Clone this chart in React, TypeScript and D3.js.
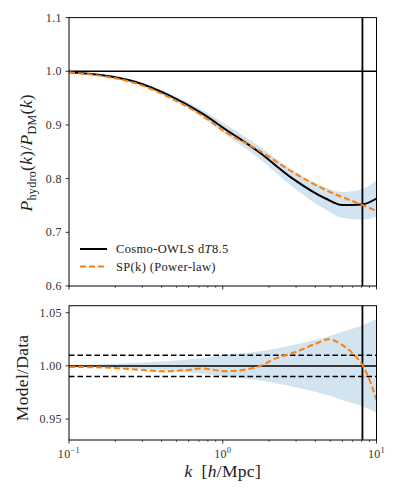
import * as d3 from "d3";

// ---- data ----
const kData = [0.1, 0.165, 0.272, 0.448, 0.738, 1.04, 1.71, 2.82, 4.66, 5.98, 8.07, 10];
const hydroRatio = [0.998, 0.9925, 0.98, 0.955, 0.921, 0.892, 0.85, 0.801, 0.763, 0.751, 0.752, 0.763];
const relErr = [0.0005, 0.0015, 0.003, 0.0045, 0.0075, 0.0105, 0.0135, 0.0195, 0.027, 0.032, 0.038, 0.044];

const kPower = [0.1, 0.165, 0.272, 0.448, 0.738, 1.04, 1.71, 2.82, 4.66, 8.07, 10];
const powerLaw = [0.998, 0.991, 0.9776, 0.9516, 0.917, 0.887, 0.853, 0.813, 0.779, 0.751, 0.74];

const kModel = [0.1, 0.165, 0.272, 0.405, 0.576, 0.738, 1.05, 1.42, 1.73, 2.22, 2.98, 4.04, 4.9, 6.0, 7.2, 8.15, 9.2, 10];
const modelData = [0.999, 0.9985, 0.9966, 0.995, 0.996, 0.9975, 0.995, 0.9966, 0.9997, 1.007, 1.013, 1.021, 1.025, 1.0195, 1.01, 1.0, 0.9835, 0.968];

const topTicks = [0.6, 0.7, 0.8, 0.9, 1.0, 1.1];
const botTicks = [0.95, 1.0, 1.05];
const xMajor = [0.1, 1, 10];
const xExp = ["\u22121", "0", "1"];
const kCut = 8.1;
const tolerance = [0.99, 1.01];

const W = 399;
const H = 498;
const L = 69;
const R = 376.5;
const T1 = 17.6, B1 = 286;
const T2 = 305.7, B2 = 440;

const serif = "'Liberation Serif', 'DejaVu Serif', serif";
const orange = "#ff7f0e";
const band = "rgba(31,119,180,0.2)";

export default function App() {
  const x = d3.scaleLog().domain([0.1, 10]).range([L, R]);
  const yTop = d3.scaleLinear().domain([0.6, 1.1]).range([B1, T1]);
  const yBot = d3.scaleLinear().domain([0.9303, 1.0566]).range([B2, T2]);

  const minor = x.ticks().filter((d) => !xMajor.some((m) => Math.abs(m - d) < 1e-9));

  const lineTop = d3.line<number>().x((_, i) => x(kData[i])).y((d) => yTop(d)).curve(d3.curveMonotoneX);
  const linePow = d3.line<number>().x((_, i) => x(kPower[i])).y((d) => yTop(d)).curve(d3.curveMonotoneX);
  const areaTop = d3
    .area<number>()
    .x((_, i) => x(kData[i]))
    .y0((d, i) => yTop(d * (1 - relErr[i])))
    .y1((d, i) => yTop(d * (1 + relErr[i])))
    .curve(d3.curveMonotoneX);
  const areaBot = d3
    .area<number>()
    .x((_, i) => x(kData[i]))
    .y0((d) => yBot(1 - d))
    .y1((d) => yBot(1 + d))
    .curve(d3.curveMonotoneX);
  const lineModel = d3.line<number>().x((_, i) => x(kModel[i])).y((d) => yBot(d)).curve(d3.curveMonotoneX);

  const xTicks = (yb: number, labels: boolean) => (
    <g>
      {xMajor.map((d, i) => (
        <g key={"M" + d}>
          <line x1={x(d)} x2={x(d)} y1={yb} y2={yb + 3.5} stroke="#000" strokeWidth={0.8} />
          {labels && (
            <text x={x(d)} y={yb + 17.5} textAnchor="middle" fontSize={12} fontFamily={serif} fill="#333" letterSpacing={0.3}>
              10<tspan dy={-5} fontSize={8.5}>{xExp[i]}</tspan>
            </text>
          )}
        </g>
      ))}
      {minor.map((d) => (
        <line key={"m" + d} x1={x(d)} x2={x(d)} y1={yb} y2={yb + 2} stroke="#000" strokeWidth={0.6} />
      ))}
    </g>
  );

  return (
    <svg width={W} height={H} style={{ position: "absolute", left: 0, top: 0, background: "#fff" }}>
      <defs>
        <clipPath id="c1"><rect x={L} y={T1} width={R - L} height={B1 - T1} /></clipPath>
        <clipPath id="c2"><rect x={L} y={T2} width={R - L} height={B2 - T2} /></clipPath>
      </defs>

      {/* ---- top panel ---- */}
      <g clipPath="url(#c1)">
        <path d={areaTop(hydroRatio) || ""} fill={band} />
        <line x1={L} x2={R} y1={yTop(1)} y2={yTop(1)} stroke="#000" strokeWidth={1.5} />
        <line x1={x(kCut)} x2={x(kCut)} y1={T1} y2={B1} stroke="#000" strokeWidth={1.8} />
        <path d={lineTop(hydroRatio) || ""} fill="none" stroke="#000" strokeWidth={2} />
        <path d={linePow(powerLaw) || ""} fill="none" stroke={orange} strokeWidth={2} strokeDasharray="6,3" />
      </g>
      <rect x={L} y={T1} width={R - L} height={B1 - T1} fill="none" stroke="#000" strokeWidth={1} />
      {topTicks.map((d) => (
        <g key={d}>
          <line x1={L - 3.5} x2={L} y1={yTop(d)} y2={yTop(d)} stroke="#000" strokeWidth={0.8} />
          <text x={L - 7} y={yTop(d) + 4} textAnchor="end" fontSize={12} fontFamily={serif} fill="#333" letterSpacing={0.4}>
            {d.toFixed(1)}
          </text>
        </g>
      ))}
      {xTicks(B1, false)}

      {/* legend */}
      <g fontFamily={serif} fontSize={12.5} fill="#222" letterSpacing={0.35}>
        <line x1={80} x2={107} y1={249} y2={249} stroke="#000" strokeWidth={2} />
        <text x={116} y={253}>
          Cosmo-OWLS d<tspan fontStyle="italic">T</tspan>8.5
        </text>
        <line x1={80} x2={107} y1={266.5} y2={266.5} stroke={orange} strokeWidth={2} strokeDasharray="6,3" />
        <text x={116} y={270.5}>SP(k) (Power-law)</text>
      </g>

      {/* y label top */}
      <text
        transform={`translate(32,${(T1 + B1) / 2 + 1}) rotate(-90)`}
        textAnchor="middle"
        fontFamily={serif}
        fontSize={17.5}
        fill="#222"
        letterSpacing={0.3}
      >
        <tspan fontStyle="italic">P</tspan>
        <tspan fontSize={12} dy={4}>hydro</tspan>
        <tspan dy={-4}>(</tspan>
        <tspan fontStyle="italic">k</tspan>
        <tspan>)/</tspan>
        <tspan fontStyle="italic">P</tspan>
        <tspan fontSize={12} dy={4}>DM</tspan>
        <tspan dy={-4}>(</tspan>
        <tspan fontStyle="italic">k</tspan>
        <tspan>)</tspan>
      </text>

      {/* ---- bottom panel ---- */}
      <g clipPath="url(#c2)">
        <path d={areaBot(relErr) || ""} fill={band} />
        <line x1={L} x2={R} y1={yBot(1)} y2={yBot(1)} stroke="#000" strokeWidth={1.5} />
        {tolerance.map((t) => (
          <line key={t} x1={L} x2={R} y1={yBot(t)} y2={yBot(t)} stroke="#000" strokeWidth={1.5} strokeDasharray="5.5,3" />
        ))}
        <line x1={x(kCut)} x2={x(kCut)} y1={T2} y2={B2} stroke="#000" strokeWidth={1.8} />
        <path d={lineModel(modelData) || ""} fill="none" stroke={orange} strokeWidth={2} strokeDasharray="6,3" />
      </g>
      <rect x={L} y={T2} width={R - L} height={B2 - T2} fill="none" stroke="#000" strokeWidth={1} />
      {botTicks.map((d) => (
        <g key={d}>
          <line x1={L - 3.5} x2={L} y1={yBot(d)} y2={yBot(d)} stroke="#000" strokeWidth={0.8} />
          <text x={L - 7} y={yBot(d) + 4} textAnchor="end" fontSize={12} fontFamily={serif} fill="#333" letterSpacing={0.4}>
            {d.toFixed(2)}
          </text>
        </g>
      ))}
      {xTicks(B2, true)}

      <text
        transform={`translate(28,${(T2 + B2) / 2 + 5}) rotate(-90)`}
        textAnchor="middle"
        fontFamily={serif}
        fontSize={17.5}
        fill="#222"
        letterSpacing={0.3}
      >
        Model/Data
      </text>

      {/* x label */}
      <text x={(L + R) / 2} y={477} textAnchor="middle" fontFamily={serif} fontSize={17.5} fill="#222" letterSpacing={0.3}>
        <tspan fontStyle="italic">k</tspan>{"\u2002"}[<tspan fontStyle="italic">h</tspan>/Mpc]
      </text>
    </svg>
  );
}
